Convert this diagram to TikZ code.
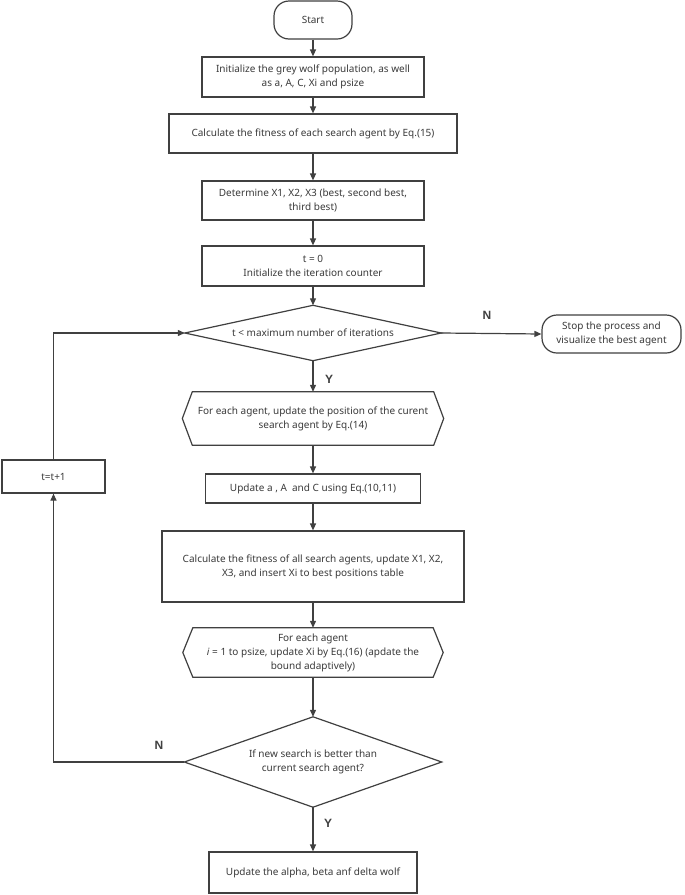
\documentclass[tikz,border=0pt]{standalone}
\usepackage{fontspec}
\setmainfont{Noto Sans}
\newfontfamily\lblfont{Liberation Sans}
\usetikzlibrary{arrows.meta,calc}
\definecolor{ln}{HTML}{404040}
\definecolor{tx}{HTML}{3A3A3A}
\begin{document}
\begin{tikzpicture}[x=1pt,y=-1pt,
  every node/.style={font=\fontsize{10}{14}\selectfont, text=tx, align=center, inner sep=0pt},
  boxnode/.style={draw=ln, line width=1.2pt, rectangle},
  roundbox/.style={draw=ln, line width=1.2pt, rectangle, rounded corners=15pt},
  shapeonly/.style={rectangle},
  conn/.style={draw=ln, line width=1.2pt, -{Triangle[length=7pt,width=6pt]}},
  outline/.style={draw=ln, line width=1.2pt},
  yn/.style={font=\lblfont\bfseries\fontsize{12}{14}\selectfont, text=ln}
]
\useasboundingbox (0,0) rectangle (685,895);
\fill[white] (0,0) rectangle (685,895);

\node[roundbox, minimum width=78pt, minimum height=38pt] (start) at (313,20) {Start};
\node[boxnode, minimum width=222pt, minimum height=40pt] (init) at (313,77) {Initialize the grey wolf population, as well\\as a, A, C, Xi and psize};
\node[boxnode, minimum width=288pt, minimum height=39pt] (fit1) at (313,133.5) {Calculate the fitness of each search agent by Eq.(15)};
\node[boxnode, minimum width=222pt, minimum height=39pt] (det) at (313,200.5) {Determine X1, X2, X3 (best, second best,\\third best)};
\node[boxnode, minimum width=222pt, minimum height=40pt] (tzero) at (313,266) {t = 0\\Initialize the iteration counter};
\node[shapeonly, minimum width=256pt, minimum height=55pt] (d1) at (313,333) {t < maximum number of iterations};
\node[roundbox, minimum width=139pt, minimum height=38pt] (stop) at (611.5,334) {Stop the process and\\visualize the best agent};
\node[shapeonly, minimum width=261pt, minimum height=53pt] (hex1) at (313,418.5) {For each agent, update the position of the curent\\search agent by Eq.(14)};
\node[boxnode, minimum width=215pt, minimum height=29pt] (upd) at (313,488.5) {Update a , A\ \ and C using Eq.(10,11)};
\node[boxnode, minimum width=302pt, minimum height=71pt] (fit2) at (313,566.5) {Calculate the fitness of all search agents, update X1, X2,\\X3, and insert Xi to best positions table};
\node[shapeonly, minimum width=260pt, minimum height=49pt] (hex2) at (313,652.5) {For each agent\\\textit{i} = 1 to psize, update Xi by Eq.(16) (apdate the\\bound adaptively)};
\node[shapeonly, minimum width=257pt, minimum height=90pt] (d2) at (313,762) {If new search is better than\\current search agent?};
\node[boxnode, minimum width=208pt, minimum height=41pt] (fin) at (313,872.5) {Update the alpha, beta anf delta wolf};
\node[boxnode, minimum width=103pt, minimum height=33pt] (tt) at (53.5,476.5) {t=t+1};

% diamonds and hexagons
\draw[outline] (d1.north) -- (d1.east) -- (d1.south) -- (d1.west) -- cycle;
\draw[outline] (d2.north) -- (d2.east) -- (d2.south) -- (d2.west) -- cycle;
\draw[outline] ($(hex1.north west)+(10,0)$) -- (hex1.west) -- ($(hex1.south west)+(10,0)$) -- ($(hex1.south east)+(-10,0)$) -- (hex1.east) -- ($(hex1.north east)+(-10,0)$) -- cycle;
\draw[outline] ($(hex2.north west)+(10,0)$) -- (hex2.west) -- ($(hex2.south west)+(10,0)$) -- ($(hex2.south east)+(-10,0)$) -- (hex2.east) -- ($(hex2.north east)+(-10,0)$) -- cycle;

% connectors
\draw[conn] (start.south) -- (init.north);
\draw[conn] (init.south) -- (fit1.north);
\draw[conn] (fit1.south) -- (det.north);
\draw[conn] (det.south) -- (tzero.north);
\draw[conn] (tzero.south) -- (d1.north);
\draw[conn] (d1.east) -- (stop.west);
\draw[conn] (d1.south) -- (hex1.north);
\draw[conn] (hex1.south) -- (upd.north);
\draw[conn] (upd.south) -- (fit2.north);
\draw[conn] (fit2.south) -- (hex2.north);
\draw[conn] (hex2.south) -- (d2.north);
\draw[conn] (d2.south) -- (fin.north);
\draw[conn] (d2.west) -| (tt.south);
\draw[conn] (tt.north) |- (d1.west);

% labels
\node[yn] (lN1) at (487,315) {N};
\node[yn] (lY1) at (329,379) {Y};
\node[yn] (lN2) at (159,745) {N};
\node[yn] (lY2) at (328,823) {Y};
\end{tikzpicture}
\end{document}
